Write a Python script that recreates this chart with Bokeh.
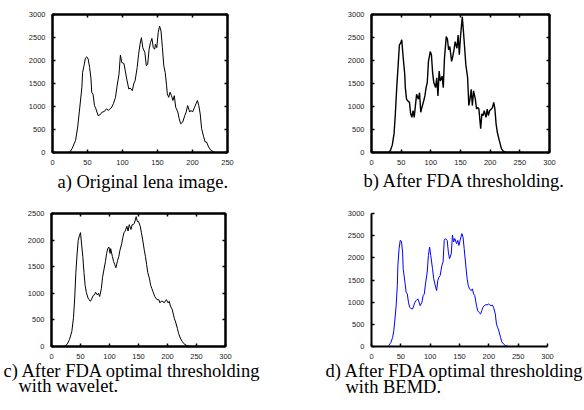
from bokeh.plotting import figure
from bokeh.layouts import column, row
from bokeh.models import (Range1d, SingleIntervalTicker, LinearAxis, Title,
                          CustomJSTickFormatter)
from bokeh.embed import file_html
from bokeh.resources import INLINE

# ---- data (gray level, pixel count) ----
a_lvl = [0, 22, 25, 28, 33, 36, 39, 42, 43, 45, 47, 49, 51, 53, 55, 56, 58, 60, 62, 65, 68, 71, 74, 77, 80, 82, 84, 87, 90, 92, 95, 97, 99, 102, 104, 106, 109, 111, 114, 116, 118, 121, 123, 125, 127, 129, 132, 134, 136, 138, 140, 142, 144, 146, 147, 149, 151, 153, 155, 157, 159, 161, 163, 164, 166, 168, 170, 172, 174, 176, 179, 181, 183, 186, 189, 191, 193, 196, 198, 200, 203, 205, 207, 209, 211, 213, 216, 218, 220, 223, 226, 230, 233, 255]
a_val = [0, 0, 10, 85, 265, 555, 985, 1420, 1740, 1885, 2050, 2080, 2030, 1850, 1600, 1310, 1260, 1020, 950, 805, 820, 880, 890, 950, 915, 950, 970, 1060, 1200, 1420, 1705, 2120, 1955, 1935, 1775, 1600, 1380, 1400, 1345, 1490, 1560, 1850, 2135, 2350, 2495, 2280, 2170, 1885, 1920, 2245, 2390, 2480, 2280, 2245, 2350, 2280, 2605, 2750, 2640, 2280, 1885, 1740, 1455, 1275, 1200, 1310, 1235, 1130, 1235, 985, 880, 735, 625, 660, 805, 880, 1020, 880, 915, 880, 985, 1060, 1130, 1020, 840, 520, 340, 230, 230, 120, 50, 15, 0, 0]

b_lvl = [0, 29, 32, 35, 38, 40, 43, 45, 47, 49, 51, 53, 56, 57, 59, 61, 64, 66, 68, 70, 72, 74, 76, 79, 81, 83, 85, 88, 90, 92, 94, 96, 99, 101, 103, 105, 108, 110, 112, 114, 116, 119, 121, 123, 126, 128, 130, 132, 135, 137, 139, 141, 144, 146, 148, 150, 153, 155, 157, 159, 162, 164, 166, 168, 170, 172, 175, 177, 179, 181, 184, 186, 188, 190, 193, 195, 197, 199, 202, 204, 206, 208, 210, 212, 214, 216, 219, 222, 227, 255]
b_val = [0, 0, 50, 160, 410, 800, 1520, 1910, 2340, 2375, 2450, 2125, 1700, 1410, 1160, 1125, 1090, 840, 765, 910, 765, 1020, 1265, 1160, 1300, 875, 980, 1125, 1230, 1410, 1520, 1980, 2195, 2125, 1735, 1520, 1410, 1625, 1230, 1770, 1555, 1660, 1410, 2055, 2520, 2460, 2230, 2305, 1980, 2090, 2230, 2410, 2265, 2555, 2125, 2520, 2950, 2625, 2265, 1910, 1625, 1020, 1160, 1375, 1020, 1340, 1160, 945, 980, 945, 515, 840, 800, 910, 765, 945, 800, 910, 945, 980, 1090, 945, 620, 445, 335, 230, 85, 30, 0, 0]

c_lvl = [0, 22, 27, 31, 35, 38, 40, 42, 44, 46, 48, 50, 51, 54, 56, 58, 60, 63, 65, 67, 70, 72, 74, 76, 79, 81, 83, 86, 88, 90, 93, 95, 97, 99, 101, 102, 105, 107, 109, 111, 114, 116, 118, 121, 123, 125, 127, 130, 132, 134, 137, 139, 141, 143, 146, 148, 150, 153, 155, 157, 160, 162, 164, 166, 169, 171, 173, 175, 178, 180, 182, 185, 187, 189, 192, 194, 196, 198, 201, 203, 205, 208, 210, 212, 214, 217, 219, 222, 225, 228, 232, 236, 240, 255]
c_val = [0, 0, 40, 130, 280, 550, 910, 1390, 1720, 1990, 2080, 2140, 2020, 1690, 1390, 1150, 1020, 910, 880, 850, 910, 960, 970, 1020, 970, 1000, 940, 1090, 1300, 1420, 1600, 1750, 1840, 1870, 1750, 1840, 1690, 1600, 1540, 1480, 1620, 1690, 1810, 1930, 2050, 2140, 2170, 2260, 2170, 2290, 2200, 2290, 2290, 2320, 2440, 2350, 2350, 2260, 2140, 2020, 1810, 1690, 1540, 1390, 1270, 1150, 1090, 1030, 940, 910, 880, 880, 820, 850, 850, 820, 850, 880, 820, 850, 760, 700, 610, 520, 460, 340, 250, 160, 100, 55, 25, 5, 0, 0]

d_lvl = [0, 28, 30, 33, 36, 38, 40, 42, 44, 45, 47, 49, 51, 53, 54, 57, 59, 61, 63, 65, 67, 70, 72, 74, 76, 79, 81, 83, 86, 88, 90, 92, 95, 97, 99, 101, 104, 106, 108, 111, 113, 115, 117, 120, 122, 124, 126, 129, 131, 133, 136, 138, 140, 142, 145, 147, 149, 151, 154, 156, 158, 161, 163, 165, 167, 170, 172, 174, 176, 179, 181, 183, 186, 188, 190, 192, 195, 197, 199, 201, 204, 206, 208, 211, 213, 215, 217, 220, 222, 225, 229, 235, 255]
d_val = [0, 0, 30, 90, 205, 355, 620, 920, 1375, 1830, 2205, 2395, 2375, 2130, 1755, 1450, 1225, 1185, 1000, 885, 860, 845, 920, 1000, 1035, 1075, 1000, 920, 1000, 1150, 1185, 1410, 1680, 2055, 2245, 2055, 1755, 1530, 1410, 1260, 1490, 1565, 1600, 1830, 1905, 2395, 2435, 2395, 2130, 1980, 2095, 2510, 2360, 2435, 2320, 2395, 2280, 2395, 2545, 2470, 2205, 1790, 1530, 1375, 1300, 1260, 1300, 1185, 1150, 920, 810, 770, 735, 810, 885, 920, 945, 935, 960, 945, 920, 935, 885, 735, 505, 430, 355, 205, 105, 55, 15, 0, 0]

captions = {
    "a": ["a) Original lena image."],
    "b": ["b) After FDA thresholding."],
    "c": ["c) After FDA optimal thresholding", "with wavelet."],
    "d": ["d) After FDA optimal thresholding", "with BEMD."],
}

TICK_FONT = "Liberation Sans"
CAP_FONT = "Liberation Serif"
FRAME_LW = 2


def style_axis(ax, show_labels=True):
    ax.major_tick_in = 3
    ax.major_tick_out = 0
    ax.minor_tick_line_color = None
    ax.major_tick_line_color = "black"
    ax.major_tick_line_width = 1.5
    ax.axis_line_color = "black"
    ax.axis_line_width = FRAME_LW
    ax.major_label_text_font = TICK_FONT
    ax.major_label_text_font_size = "7.5px"
    ax.major_label_text_color = "#222222"
    ax.major_label_standoff = 3
    if not show_labels:
        ax.formatter = CustomJSTickFormatter(code="return ''")
        ax.major_label_standoff = 0


def make_panel(lvl, val, xmax, ymax, color, lw, size, borders, cap, cap_offsets,
               standoffs, boxed=True):
    left, right, top, bottom = borders
    p = figure(width=size[0], height=size[1], output_backend="svg", toolbar_location=None,
               x_range=Range1d(0, xmax), y_range=Range1d(0, ymax),
               min_border_left=left, min_border_right=right,
               min_border_top=top, min_border_bottom=bottom)
    p.grid.visible = False
    p.xaxis.ticker = SingleIntervalTicker(interval=50)
    p.yaxis.ticker = SingleIntervalTicker(interval=500)
    style_axis(p.xaxis[0])
    style_axis(p.yaxis[0])
    if boxed:
        p.outline_line_color = "black"
        p.outline_line_width = FRAME_LW
        p.outline_line_alpha = 1.0
        top_ax = LinearAxis(ticker=SingleIntervalTicker(interval=50))
        right_ax = LinearAxis(ticker=SingleIntervalTicker(interval=500))
        style_axis(top_ax, False)
        style_axis(right_ax, False)
        p.add_layout(top_ax, "above")
        p.add_layout(right_ax, "right")
    else:
        p.outline_line_color = None
    p.line(lvl, val, line_color=color, line_width=lw)
    for txt, off, so in zip(cap, cap_offsets, standoffs):
        t = Title(text=txt, align="left", offset=off, text_font=CAP_FONT,
                  text_font_size="18.5px", text_font_style="normal",
                  text_color="black", standoff=so)
        p.add_layout(t, "below")
    return p


pa = make_panel(a_lvl, a_val, 250, 3000, "black", 1.0, (292, 205), (52, 65, 13, 53),
                captions["a"], [5], [4])
pb = make_panel(b_lvl, b_val, 300, 3000, "black", 1.4, (292, 205), (79, 35, 14, 51),
                captions["b"], [-8], [3])
pc = make_panel(c_lvl, c_val, 300, 2500, "black", 1.0, (292, 203), (51, 67, 5, 59),
                captions["c"], [-48, -33], [-6, -8])
pd = make_panel(d_lvl, d_val, 300, 3000, "#0000ff", 1.0, (292, 203), (79, 37, 8, 62),
                captions["d"], [-46, -26], [-5, -8], boxed=False)

layout = column(row(pa, pb), row(pc, pd))
open("out.html", "w").write(file_html(layout, INLINE))
